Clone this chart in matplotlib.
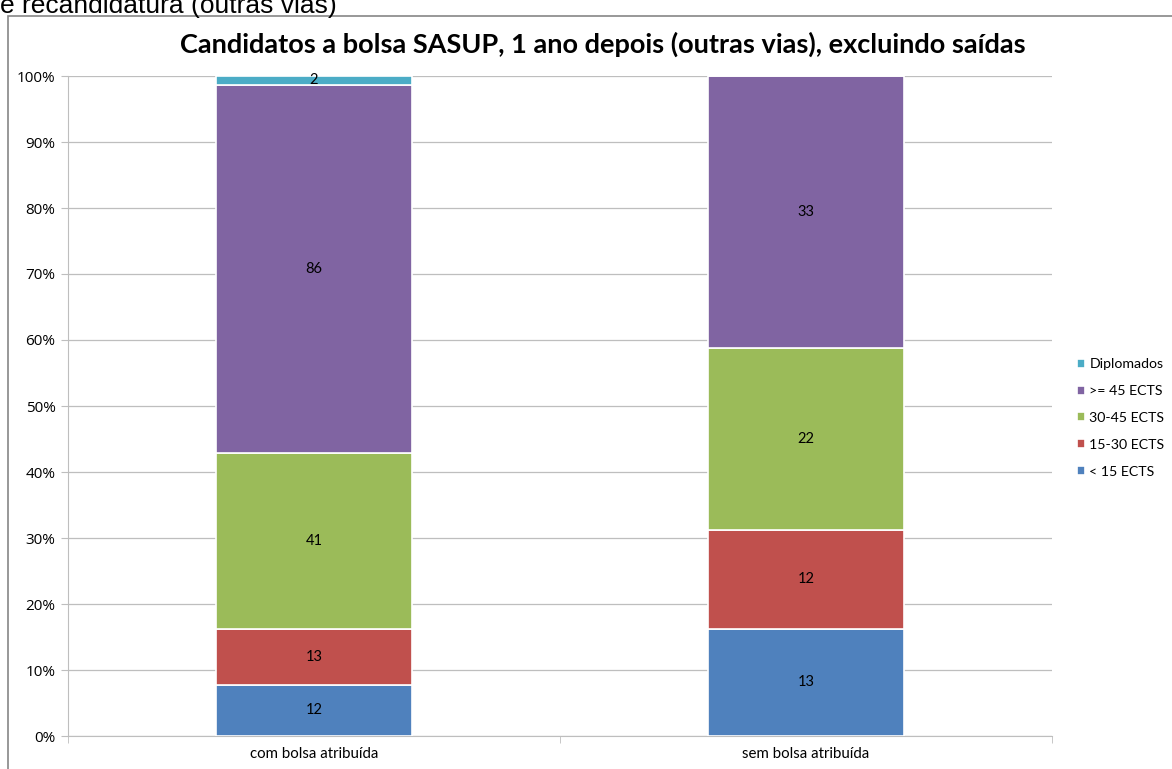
import numpy as np
import matplotlib.pyplot as plt
from matplotlib.patches import Rectangle

categories = ['com bolsa atribuída', 'sem bolsa atribuída']
series = ['< 15 ECTS', '15-30 ECTS', '30-45 ECTS', '>= 45 ECTS', 'Diplomados']
counts = {
    '< 15 ECTS':  [12, 13],
    '15-30 ECTS': [13, 12],
    '30-45 ECTS': [41, 22],
    '>= 45 ECTS': [86, 33],
    'Diplomados': [2, 0],
}
colors = ['#4F81BD', '#C0504D', '#9BBB59', '#8064A2', '#4BACC6']

plt.rcParams['font.family'] = ['Lato', 'DejaVu Sans']

fig = plt.figure(figsize=(11.72, 7.69), dpi=100)
ax = fig.add_axes([68/1172, 33/769, (1052-68)/1172, (736-76)/769])

# outer chart frame
fig.patches.append(Rectangle((8/1172, -0.1), 1.2, (769-16)/769 + 0.1,
                             transform=fig.transFigure, fill=False,
                             edgecolor='#868686', linewidth=1.2))
fig.text(0.0, 1 - 13/769, 'e recandidatura (outras vias)', fontsize=19,
         family='Liberation Sans', va='baseline', ha='left')

x = np.arange(len(categories))
totals = np.sum([counts[s] for s in series], axis=0)
bottom = np.zeros(len(categories))
for s, c in zip(series, colors):
    vals = np.array(counts[s], dtype=float)
    pct = vals / totals * 100
    ax.bar(x, pct, width=0.4, bottom=bottom, color=c, edgecolor='white',
           linewidth=1.2, label=s, zorder=3)
    for i in range(len(x)):
        if vals[i] > 0:
            ax.text(x[i], bottom[i] + pct[i] / 2, '%d' % vals[i],
                    ha='center', va='center', fontsize=10.5, zorder=4)
    bottom += pct

ax.set_xlim(-0.5, 1.5)
ax.set_ylim(0, 100)
ax.set_yticks(np.arange(0, 101, 10))
ax.set_yticklabels(['%d%%' % v for v in range(0, 101, 10)], fontsize=11,
                   family='Open Sans')
ax.set_xticks(x)
ax.set_xticklabels(categories, fontsize=10.8)
ax.set_xticks([-0.5, 0.5, 1.5], minor=True)
ax.tick_params(axis='x', which='major', length=0, pad=8)
ax.tick_params(axis='x', which='minor', length=5, color='#BEBEBE')
ax.tick_params(axis='y', length=5, color='#BEBEBE', pad=4)
ax.grid(axis='y', color='#BEBEBE', linewidth=0.9, zorder=0)
for sp in ['top', 'right']:
    ax.spines[sp].set_visible(False)
for sp in ['left', 'bottom']:
    ax.spines[sp].set_color('#BEBEBE')

ax.set_title('Candidatos a bolsa SASUP, 1 ano depois (outras vias), excluindo saídas',
             fontsize=19.5, fontweight='bold', pad=17, x=(603-68)/(1052-68))

h, l = ax.get_legend_handles_labels()
ax.legend(h[::-1], l[::-1], loc='center left', bbox_to_anchor=(1.012, 0.482),
          frameon=False, fontsize=10.2, handlelength=0.6, handleheight=0.6,
          handletextpad=0.3, labelspacing=1.05)

fig.savefig('out.png', dpi=100)
